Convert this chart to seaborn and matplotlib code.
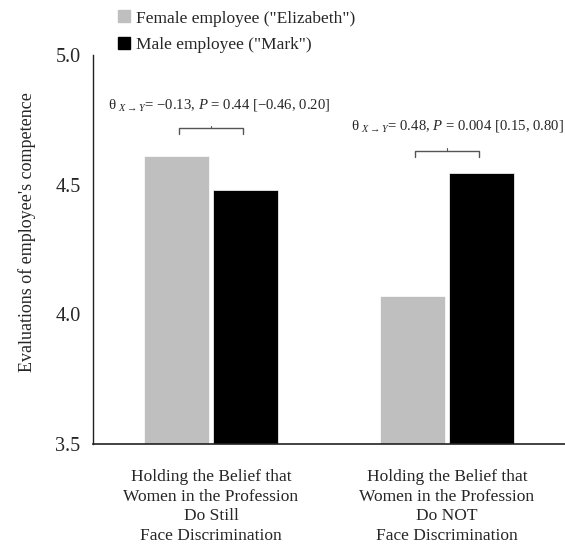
import matplotlib
matplotlib.use("Agg")
import matplotlib.pyplot as plt
import seaborn as sns
import pandas as pd
from matplotlib.lines import Line2D

# Data
groups = ["Holding the Belief that\nWomen in the Profession\nDo Still\nFace Discrimination",
          "Holding the Belief that\nWomen in the Profession\nDo NOT\nFace Discrimination"]
employees = ['Female employee ("Elizabeth")', 'Male employee ("Mark")']
female_vals = [4.61, 4.07]
male_vals = [4.48, 4.545]
effect_labels = [r"θ $_{X\rightarrow Y}$= $-$0.13, $P$ = 0.44 [$-$0.46, 0.20]",
                 r"θ $_{X\rightarrow Y}$= 0.48, $P$ = 0.004 [0.15, 0.80]"]

df = pd.DataFrame({
    "group": groups * 2,
    "employee": [employees[0]] * 2 + [employees[1]] * 2,
    "value": female_vals + male_vals,
})

sns.set_theme(style="white")
plt.rcParams["font.family"] = ["Liberation Serif", "DejaVu Serif"]
plt.rcParams["mathtext.fontset"] = "custom"
plt.rcParams["mathtext.rm"] = "Liberation Serif"
plt.rcParams["mathtext.it"] = "Liberation Serif:italic"

colors = ["#bfbfbf", "#000000"]

fig = plt.figure(figsize=(5.65, 5.46), dpi=100)
ax = fig.add_axes([0.1646, 0.1868, 0.8354, 0.7125])

sns.barplot(data=df, x="group", y="value", hue="employee", palette=colors,
            width=0.58, gap=0.05, ax=ax, legend=False, edgecolor="white", linewidth=0.5)

ax.set_ylim(3.5, 5.0)
ax.set_xlim(-0.5, 1.5)
ax.set_yticks([3.5, 4.0, 4.5, 5.0])
ax.set_yticklabels(["3.5", "4.0", "4.5", "5.0"])
ax.set_xticks([0, 1])
ax.set_xticklabels(groups, linespacing=1.3)
ax.tick_params(axis="y", length=0, pad=9, labelsize=14.5)
ax.tick_params(axis="x", length=0, pad=18, labelsize=12.5)
ax.set_xlabel("")
ax.set_ylabel("Evaluations of employee's competence", fontsize=13)
ax.yaxis.set_label_coords(-0.12, 0.545)
for s in ["top", "right"]:
    ax.spines[s].set_visible(False)
ax.spines["left"].set_color("#222222")
ax.spines["bottom"].set_color("#222222")
ax.spines["left"].set_linewidth(1.0)
ax.spines["bottom"].set_linewidth(1.2)

# effect brackets and labels
bracket_y = [4.718, 4.63]
text_pos = [(0.034, 4.808), (1.045, 4.726)]
for i in range(2):
    x0, x1 = i - 0.135, i + 0.135
    y = bracket_y[i]
    ax.plot([x0, x0, x1, x1], [y - 0.022, y, y, y - 0.022], color="#555555", lw=1.0)
    ax.plot([(x0 + x1) / 2] * 2, [y, y + 0.01], color="#555555", lw=0.8)
    ax.text(text_pos[i][0], text_pos[i][1], effect_labels[i], ha="center", va="center",
            fontsize=10.6)

# legend
handles = [Line2D([], [], marker="s", linestyle="", color=c, markersize=8) for c in colors]
fig.legend(handles, employees, loc="upper left", bbox_to_anchor=(0.2035, 0.981),
           frameon=False, fontsize=12.5, handletextpad=0.2, labelspacing=0.62,
           handlelength=1.0, borderaxespad=0, borderpad=0)

fig.savefig("out.png", dpi=100)
